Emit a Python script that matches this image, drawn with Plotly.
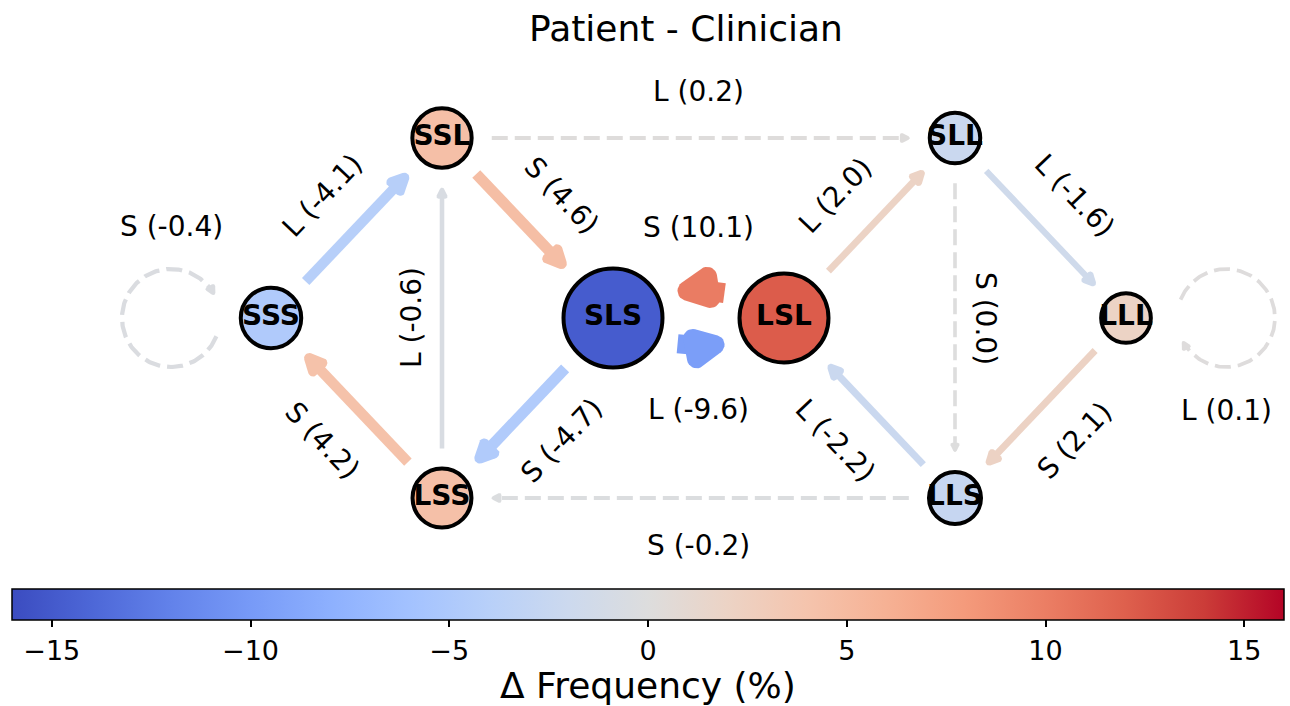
import math
import numpy as np
import plotly.graph_objects as go

# ----------------------------- data -----------------------------
chart_title = "Patient - Clinician"

node_names = ["SSS", "SSL", "LSS", "SLS", "LSL", "SLL", "LLS", "LLL"]
node_delta = [-4.8, 4.5, 4.4, -14.8, 12.2, -2.2, -2.6, 2.0]

edge_src = ["SSS", "SSS", "SSL", "SSL", "LSS", "LSS", "SLS", "SLS",
            "LSL", "LSL", "LLS", "LLS", "SLL", "SLL", "LLL", "LLL"]
edge_dst = ["SSS", "SSL", "SLS", "SLL", "SSS", "SSL", "LSS", "LSL",
            "SLS", "SLL", "LSL", "LSS", "LLS", "LLL", "LLS", "LLL"]
edge_symbol = ["S", "L", "S", "L", "S", "L", "S", "L",
               "S", "L", "L", "S", "S", "L", "S", "L"]
edge_delta = [-0.4, -4.1, 4.6, 0.2, 4.2, -0.6, -4.7, -9.6,
              10.1, 2.0, -2.2, -0.2, 0.0, -1.6, 2.1, 0.1]

cbar_ticks = [-15, -10, -5, 0, 5, 10, 15]
cbar_title = "Δ Frequency (%)"
cbar_limit = 16

# ----------------------------- style / layout -----------------------------
W, H = 1290, 706
FONT = "DejaVu Sans"
grid = {"SSS": (0, 0), "SSL": (1, 1), "LSS": (1, -1), "SLS": (2, 0),
        "LSL": (3, 0), "SLL": (4, 1), "LLS": (4, -1), "LLL": (5, 0)}
X0, Y0, DX, DY = 271.0, 318.0, 171.0, 180.0
GAP = 18.0
CURVE_RAD = 0.32
LOOP_DIST, LOOP_R = 100.0, 49.0
DASH = "16px,7px"
BORDER = 4.0

COOLWARM = [
    (0.0, (59, 76, 192)), (0.0625, (77, 103, 215)), (0.125, (98, 130, 234)),
    (0.1875, (119, 154, 247)), (0.25, (141, 176, 254)), (0.3125, (163, 194, 255)),
    (0.375, (184, 208, 249)), (0.4375, (204, 217, 238)), (0.5, (221, 221, 221)),
    (0.5625, (236, 211, 197)), (0.625, (245, 196, 173)), (0.6875, (246, 177, 148)),
    (0.75, (244, 154, 123)), (0.8125, (235, 126, 100)), (0.875, (222, 96, 77)),
    (0.9375, (203, 60, 56)), (1.0, (180, 4, 38)),
]
COLORSCALE = [[p, "rgb(%d,%d,%d)" % c] for p, c in COOLWARM]


def cmap(v):
    x = (v + cbar_limit) / (2 * cbar_limit)
    x = min(max(x, 0.0), 1.0)
    for (p0, c0), (p1, c1) in zip(COOLWARM[:-1], COOLWARM[1:]):
        if p0 <= x <= p1:
            f = (x - p0) / (p1 - p0)
            c = [round(a + (b - a) * f) for a, b in zip(c0, c1)]
            return "rgb(%d,%d,%d)" % tuple(c)
    return "rgb(180,4,38)"


def pix(name):
    i, j = grid[name]
    return np.array([X0 + DX * i, Y0 - DY * j], float)


def node_diam(v):
    return 46 + 3.85 * abs(v)


def edge_width(v):
    return 3.6 + 1.6 * abs(v)


def inflate(poly, rad, nseg=10):
    P = [np.asarray(p, float) for p in poly]
    n = len(P)
    area = sum(P[i][0] * P[(i + 1) % n][1] - P[(i + 1) % n][0] * P[i][1] for i in range(n))
    if area < 0:
        P = P[::-1]
    out = []
    for i in range(n):
        prev, cur, nxt = P[i - 1], P[i], P[(i + 1) % n]
        e1, e2 = cur - prev, nxt - cur
        n1 = np.array([e1[1], -e1[0]]) / np.linalg.norm(e1)
        n2 = np.array([e2[1], -e2[0]]) / np.linalg.norm(e2)
        a1 = math.atan2(n1[1], n1[0])
        a2 = math.atan2(n2[1], n2[0])
        while a2 < a1:
            a2 += 2 * math.pi
        for a in np.linspace(a1, a2, nseg):
            out.append(cur + rad * np.array([math.cos(a), math.sin(a)]))
    out.append(out[0])
    return np.array(out)


def head_poly(E, u, w):
    Lp, hp = w + 2.0, w / 2 + 1.0
    nrm = np.array([-u[1], u[0]])
    T = E - u * w / 2
    Bc = T - u * Lp
    tri = [T, Bc + nrm * hp, Bc - nrm * hp]
    return inflate(tri, w / 2), w / 2 + Lp


def label_angle(d):
    ang = math.degrees(math.atan2(d[1], d[0]))
    if ang > 90:
        ang -= 180
    if ang < -90:
        ang += 180
    return ang


fig = go.Figure()
annotations = []
radius = {n: node_diam(v) / 2 for n, v in zip(node_names, node_delta)}
pairs = set(zip(edge_src, edge_dst))
center = np.mean([pix(n) for n in node_names], axis=0)

for s, t, sym, v in zip(edge_src, edge_dst, edge_symbol, edge_delta):
    w = edge_width(v)
    col = cmap(v)
    dash = DASH if abs(v) < 0.5 else "solid"
    text = "%s (%.1f)" % (sym, v)
    p0, p1 = pix(s), pix(t)
    if s == t:
        o = p0 - center
        o = np.array([np.sign(o[0]), 0.0])
        C = p0 + o * LOOP_DIST
        a = math.atan2(p0[1] - C[1], p0[0] - C[0])
        thE = a + math.radians(332)
        E = C + LOOP_R * np.array([math.cos(thE), math.sin(thE)])
        u = np.array([-math.sin(thE), math.cos(thE)])
        hp_xy, back = head_poly(E, u, w)
        thB = thE - back / LOOP_R
        th = np.linspace(a + math.radians(22), thB, 200)
        xs = C[0] + LOOP_R * np.cos(th)
        ys = C[1] + LOOP_R * np.sin(th)
        nl = np.array([o[1], -o[0]])
        lab = C - nl * 92
        ang = 0
    else:
        L = np.linalg.norm(p1 - p0)
        d = (p1 - p0) / L
        n = np.array([d[1], -d[0]])
        mid = (p0 + p1) / 2
        curved = (t, s) in pairs
        rad = CURVE_RAD if curved else 0.0
        ctrl = mid - n * rad * L
        ts = np.linspace(0, 1, 3001)[:, None]
        B = (1 - ts) ** 2 * p0 + 2 * ts * (1 - ts) * ctrl + ts ** 2 * p1
        d0 = np.linalg.norm(B - p0, axis=1)
        d1 = np.linalg.norm(B - p1, axis=1)
        i0 = int(np.argmax(d0 >= radius[s] + GAP))
        i1 = int(np.nonzero(d1 >= radius[t] + GAP)[0][-1])
        E = B[i1]
        tt = ts[i1, 0]
        der = 2 * (1 - tt) * (ctrl - p0) + 2 * tt * (p1 - ctrl)
        u = der / np.linalg.norm(der)
        hp_xy, back = head_poly(E, u, w)
        dE = np.linalg.norm(B - E, axis=1)
        idx = np.nonzero((dE >= back) & (np.arange(len(B)) <= i1))[0]
        ib = int(idx[-1]) if len(idx) else i0
        seg = B[i0:ib + 2]
        xs, ys = seg[:, 0], seg[:, 1]
        if curved:
            lab = mid - n * 91
            ang = 0
        else:
            off = 31 if abs(d[0]) < 0.1 else 47
            lab = mid + n * off
            ang = label_angle(d)
    fig.add_trace(go.Scatter(x=xs, y=ys, mode="lines",
                             line=dict(color=col, width=w, dash=dash),
                             hoverinfo="skip", showlegend=False))
    fig.add_trace(go.Scatter(x=hp_xy[:, 0], y=hp_xy[:, 1], mode="lines",
                             fill="toself", fillcolor=col,
                             line=dict(color=col, width=0),
                             hoverinfo="skip", showlegend=False))
    annotations.append(dict(x=lab[0], y=lab[1], xref="x", yref="y", text=text,
                            showarrow=False, textangle=ang,
                            xanchor="center", yanchor="middle",
                            font=dict(family=FONT, size=28, color="black")))

# nodes
npos = np.array([pix(n) for n in node_names])
fig.add_trace(go.Scatter(
    x=npos[:, 0], y=npos[:, 1], mode="markers+text",
    text=node_names, textposition="middle center",
    textfont=dict(family=FONT, size=28, color="black", weight="bold"),
    marker=dict(size=[node_diam(v) - BORDER for v in node_delta],
                color=[cmap(v) for v in node_delta], opacity=1,
                line=dict(color="black", width=BORDER)),
    hoverinfo="skip", showlegend=False))

# colorbar carrier
fig.add_trace(go.Scatter(
    x=[-1000], y=[-1000], mode="markers",
    marker=dict(size=1, color=[0], cmin=-cbar_limit, cmax=cbar_limit,
                colorscale=COLORSCALE, showscale=True,
                colorbar=dict(orientation="h", x=648 / W, xanchor="center",
                              y=1 - 589 / H, yanchor="top",
                              len=1272, lenmode="pixels",
                              thickness=31, thicknessmode="pixels",
                              xpad=0, ypad=0,
                              outlinewidth=1.5, outlinecolor="black",
                              ticks="outside", ticklen=7, tickwidth=1.5,
                              tickcolor="black",
                              tickvals=cbar_ticks,
                              ticktext=[str(v).replace("-", "\u2212") for v in cbar_ticks],
                              tickfont=dict(family=FONT, size=27, color="black"))),
    hoverinfo="skip", showlegend=False))

annotations.append(dict(x=648 / W, y=1 - 685 / H, xref="paper", yref="paper",
                        text=cbar_title, showarrow=False,
                        xanchor="center", yanchor="middle",
                        font=dict(family=FONT, size=36, color="black")))

fig.update_layout(
    width=W, height=H,
    margin=dict(l=0, r=0, t=0, b=0, autoexpand=False),
    paper_bgcolor="white", plot_bgcolor="white",
    title=dict(text=chart_title, x=686 / W, xanchor="center",
               y=1 - 28 / H, yanchor="middle", yref="container",
               font=dict(family=FONT, size=36, color="black")),
    xaxis=dict(range=[0, W], visible=False, fixedrange=True),
    yaxis=dict(range=[H, 0], visible=False, fixedrange=True),
    annotations=annotations,
)

fig.write_html("out.html", config={"displayModeBar": False},
               post_script="document.body.style.margin='0';")
